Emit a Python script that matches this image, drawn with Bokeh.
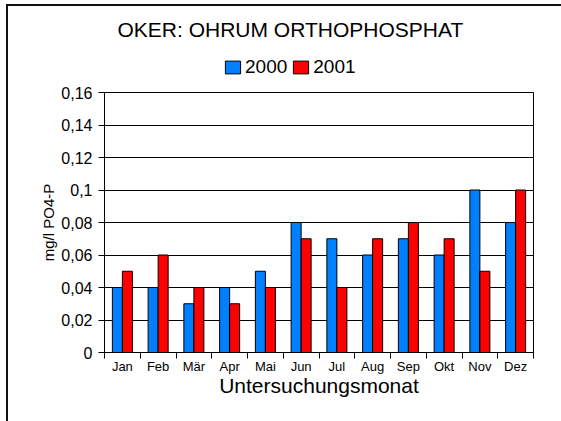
import numpy as np
from bokeh.plotting import figure
from bokeh.layouts import column
from bokeh.models import ColumnDataSource, FixedTicker, Legend, LegendItem, Range1d, InlineStyleSheet
from bokeh.transform import dodge
from bokeh.embed import file_html
from bokeh.resources import INLINE

months = ["Jan", "Feb", "Mär", "Apr", "Mai", "Jun", "Jul", "Aug", "Sep", "Okt", "Nov", "Dez"]
v2000 = [0.04, 0.04, 0.03, 0.04, 0.05, 0.08, 0.07, 0.06, 0.07, 0.06, 0.10, 0.08]
v2001 = [0.05, 0.06, 0.04, 0.03, 0.04, 0.07, 0.04, 0.07, 0.08, 0.07, 0.05, 0.10]
series = ["2000", "2001"]
colors = ["#0080FF", "#FF0000"]
yticks = [0, 0.02, 0.04, 0.06, 0.08, 0.1, 0.12, 0.14, 0.16]
ytick_labels = ["0", "0,02", "0,04", "0,06", "0,08", "0,1", "0,12", "0,14", "0,16"]

FONT = "Liberation Sans"

pos = np.arange(len(months)) + 0.5
src = ColumnDataSource(dict(x=pos, m=months, a=v2000, b=v2001))

# ---------- header: title + legend ----------
head = figure(width=553, height=74, output_backend="svg", toolbar_location=None,
              x_range=Range1d(0, 12), y_range=Range1d(1, 2),
              x_axis_location=None, y_axis_location=None,
              min_border_left=96, min_border_right=28, min_border_top=38, min_border_bottom=0)
head.grid.visible = False
head.outline_line_color = None
head.title.text = "OKER: OHRUM ORTHOPHOSPHAT"
head.title.align = "left"
head.title.offset = 13
head.title.text_font = FONT
head.title.text_font_size = "21px"
head.title.text_font_style = "normal"
head.title.text_color = "black"
head.title.standoff = 8

# legend swatches (the data itself lies outside this header's y range)
h1 = head.vbar(x="x", top="a", width=0.28, source=src, fill_color=colors[0], line_color="black")
h2 = head.vbar(x="x", top="b", width=0.28, source=src, fill_color=colors[1], line_color="black")
legend = Legend(items=[LegendItem(label=series[0], renderers=[h1]),
                       LegendItem(label=series[1], renderers=[h2])],
                orientation="horizontal", location=(119, 2),
                glyph_width=19, glyph_height=16, label_standoff=3, spacing=4,
                padding=0, margin=0, border_line_color=None, background_fill_alpha=0,
                label_text_font=FONT, label_text_font_size="19px", label_text_color="black")
head.add_layout(legend, "center")

# ---------- main chart ----------
p = figure(width=553, height=341, output_backend="svg", toolbar_location=None,
           x_range=Range1d(0, 12), y_range=Range1d(0, 0.16), title_location=None,
           min_border_left=96, min_border_right=28, min_border_top=12, min_border_bottom=69)

p.vbar(x=dodge("x", -0.14, range=p.x_range), top="a", width=0.28, source=src,
       fill_color=colors[0], line_color="black", line_width=1)
p.vbar(x=dodge("x", 0.14, range=p.x_range), top="b", width=0.28, source=src,
       fill_color=colors[1], line_color="black", line_width=1)

p.xaxis.ticker = FixedTicker(ticks=list(pos), minor_ticks=list(range(13)))
p.xaxis.major_label_overrides = {float(x): m for x, m in zip(pos, months)}
p.xaxis.major_tick_out = 0
p.xaxis.major_tick_in = 0
p.xaxis.minor_tick_out = 6
p.xaxis.minor_tick_in = 0
p.xaxis.major_label_standoff = 0
p.xaxis.major_label_text_font = FONT
p.xaxis.major_label_text_font_size = "13px"
p.xaxis.major_label_text_color = "black"
p.xaxis.axis_label = "Untersuchungsmonat"
p.xaxis.axis_label_text_font = FONT
p.xaxis.axis_label_text_font_size = "21px"
p.xaxis.axis_label_text_font_style = "normal"
p.xaxis.axis_label_text_color = "black"
p.xaxis.axis_label_standoff = -3
p.xaxis.axis_line_color = "black"
p.xaxis.minor_tick_line_color = "black"

p.yaxis.ticker = FixedTicker(ticks=yticks, minor_ticks=[])
p.yaxis.major_label_overrides = {t: l for t, l in zip(yticks, ytick_labels)}
p.yaxis.major_tick_out = 6
p.yaxis.major_tick_in = 0
p.yaxis.major_label_standoff = 6
p.yaxis.major_label_text_font = FONT
p.yaxis.major_label_text_font_size = "16px"
p.yaxis.major_label_text_color = "black"
p.yaxis.axis_label = "mg/l PO4-P"
p.yaxis.axis_label_text_font = FONT
p.yaxis.axis_label_text_font_size = "15px"
p.yaxis.axis_label_text_font_style = "normal"
p.yaxis.axis_label_text_color = "black"
p.yaxis.axis_label_standoff = 1
p.yaxis.axis_line_color = "black"
p.yaxis.major_tick_line_color = "black"

p.xgrid.grid_line_color = None
p.ygrid.ticker = FixedTicker(ticks=yticks)
p.ygrid.grid_line_color = "black"
p.ygrid.grid_line_width = 1

p.outline_line_color = "black"
p.outline_line_width = 1

layout = column(head, p, spacing=0)
layout.stylesheets = [InlineStyleSheet(css=":host { margin-left: 6px; margin-top: 4px; border-left: 2px solid #111; border-top: 2px solid #111; }")]

open("out.html", "w").write(file_html(layout, INLINE))
